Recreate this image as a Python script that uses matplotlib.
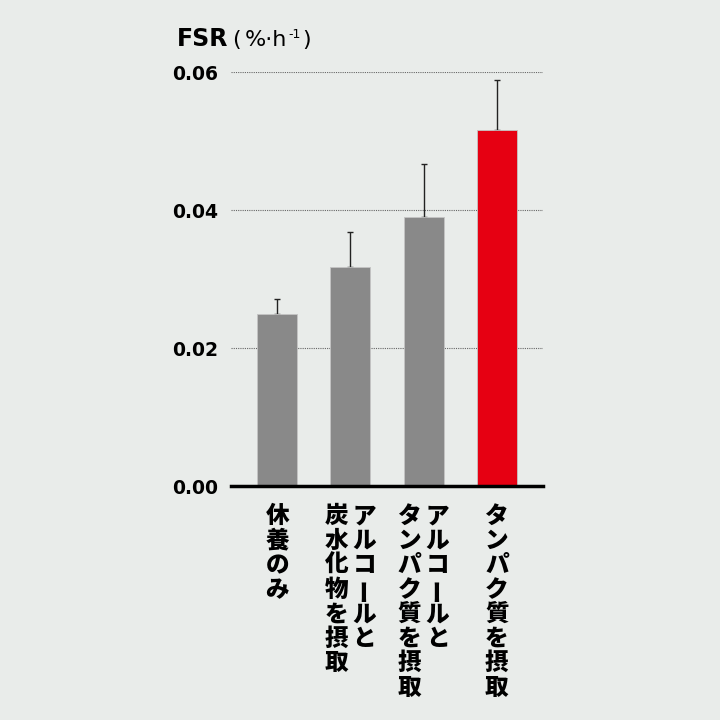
import numpy as np
import matplotlib.pyplot as plt

labels = [['休養のみ'],
          ['アルコールと', '炭水化物を摂取'],
          ['アルコールと', 'タンパク質を摂取'],
          ['タンパク質を摂取']]
fsr = [0.0249, 0.0317, 0.0390, 0.0516]
err = [0.0022, 0.0051, 0.0077, 0.0072]
colors = ['#898989', '#898989', '#898989', '#e60012']
yticks = [0.00, 0.02, 0.04, 0.06]

bg = '#e9ecea'
jp = ['Noto Sans CJK JP', 'DejaVu Sans']

fig = plt.figure(figsize=(7.2, 7.2), dpi=100)
fig.patch.set_facecolor(bg)
ax = fig.add_axes([231 / 720, 1 - 486 / 720, 312 / 720, 414 / 720])
ax.set_facecolor(bg)

x = np.arange(len(fsr))
ax.bar(x, fsr, width=0.545, color=colors, edgecolor='#c4c4c4', linewidth=0.6, zorder=2)
ax.errorbar(x, fsr, yerr=[np.zeros(len(err)), err], fmt='none', ecolor='#222222',
            elinewidth=1, capsize=2.5, capthick=1, zorder=1)

ax.set_xlim(-0.63, 3.63)
ax.set_ylim(0, 0.06)
ax.set_yticks(yticks)
ax.set_yticklabels([f'{v:.2f}' for v in yticks], fontweight='bold', fontsize=13.5,
                   family='DejaVu Sans')
ax.tick_params(axis='y', length=0, pad=9)
ax.set_xticks([])
ax.set_axisbelow(True)
ax.yaxis.grid(True, linestyle=(0, (1, 1)), color='#666666', linewidth=0.8)
for s in ['top', 'right', 'left']:
    ax.spines[s].set_visible(False)
ax.spines['bottom'].set_linewidth(2.5)
ax.spines['bottom'].set_color('black')

# vertical (tategaki) category labels, columns read right to left
pitch = 24.5
for i, cols in enumerate(labels):
    n = len(cols)
    for j, col in enumerate(cols):
        dx = ((n - 1) / 2 - j) * 28
        for k, ch in enumerate(col):
            ax.annotate(ch, xy=(x[i], 0), xycoords=('data', 'axes fraction'),
                        xytext=(dx, -30 - k * pitch), textcoords='offset pixels',
                        ha='center', va='center', fontsize=17, fontweight='black',
                        family=jp, rotation=90 if ch == 'ー' else 0,
                        annotation_clip=False)

# title with superscript
r = fig.canvas.get_renderer()
base = 1 - 46 / 720
t1 = fig.text(177 / 720, base, 'FSR', fontsize=17, fontweight='bold',
              family='DejaVu Sans', va='baseline')
x1 = t1.get_window_extent(r).x1 / 720
t2 = fig.text(x1 + 4 / 720, base, '(', fontsize=16, family='DejaVu Sans', va='baseline')
x2 = t2.get_window_extent(r).x1 / 720
t3 = fig.text(x2 + 4 / 720, base, '%·h', fontsize=16, family='DejaVu Sans', va='baseline')
x3 = t3.get_window_extent(r).x1 / 720
t4 = fig.text(x3 + 1 / 720, base + 8 / 720, '-1', fontsize=9, family='DejaVu Sans',
              va='baseline')
x4 = t4.get_window_extent(r).x1 / 720
fig.text(x4 + 2 / 720, base, ')', fontsize=16, family='DejaVu Sans', va='baseline')

fig.savefig('out.png', dpi=100, facecolor=bg)
